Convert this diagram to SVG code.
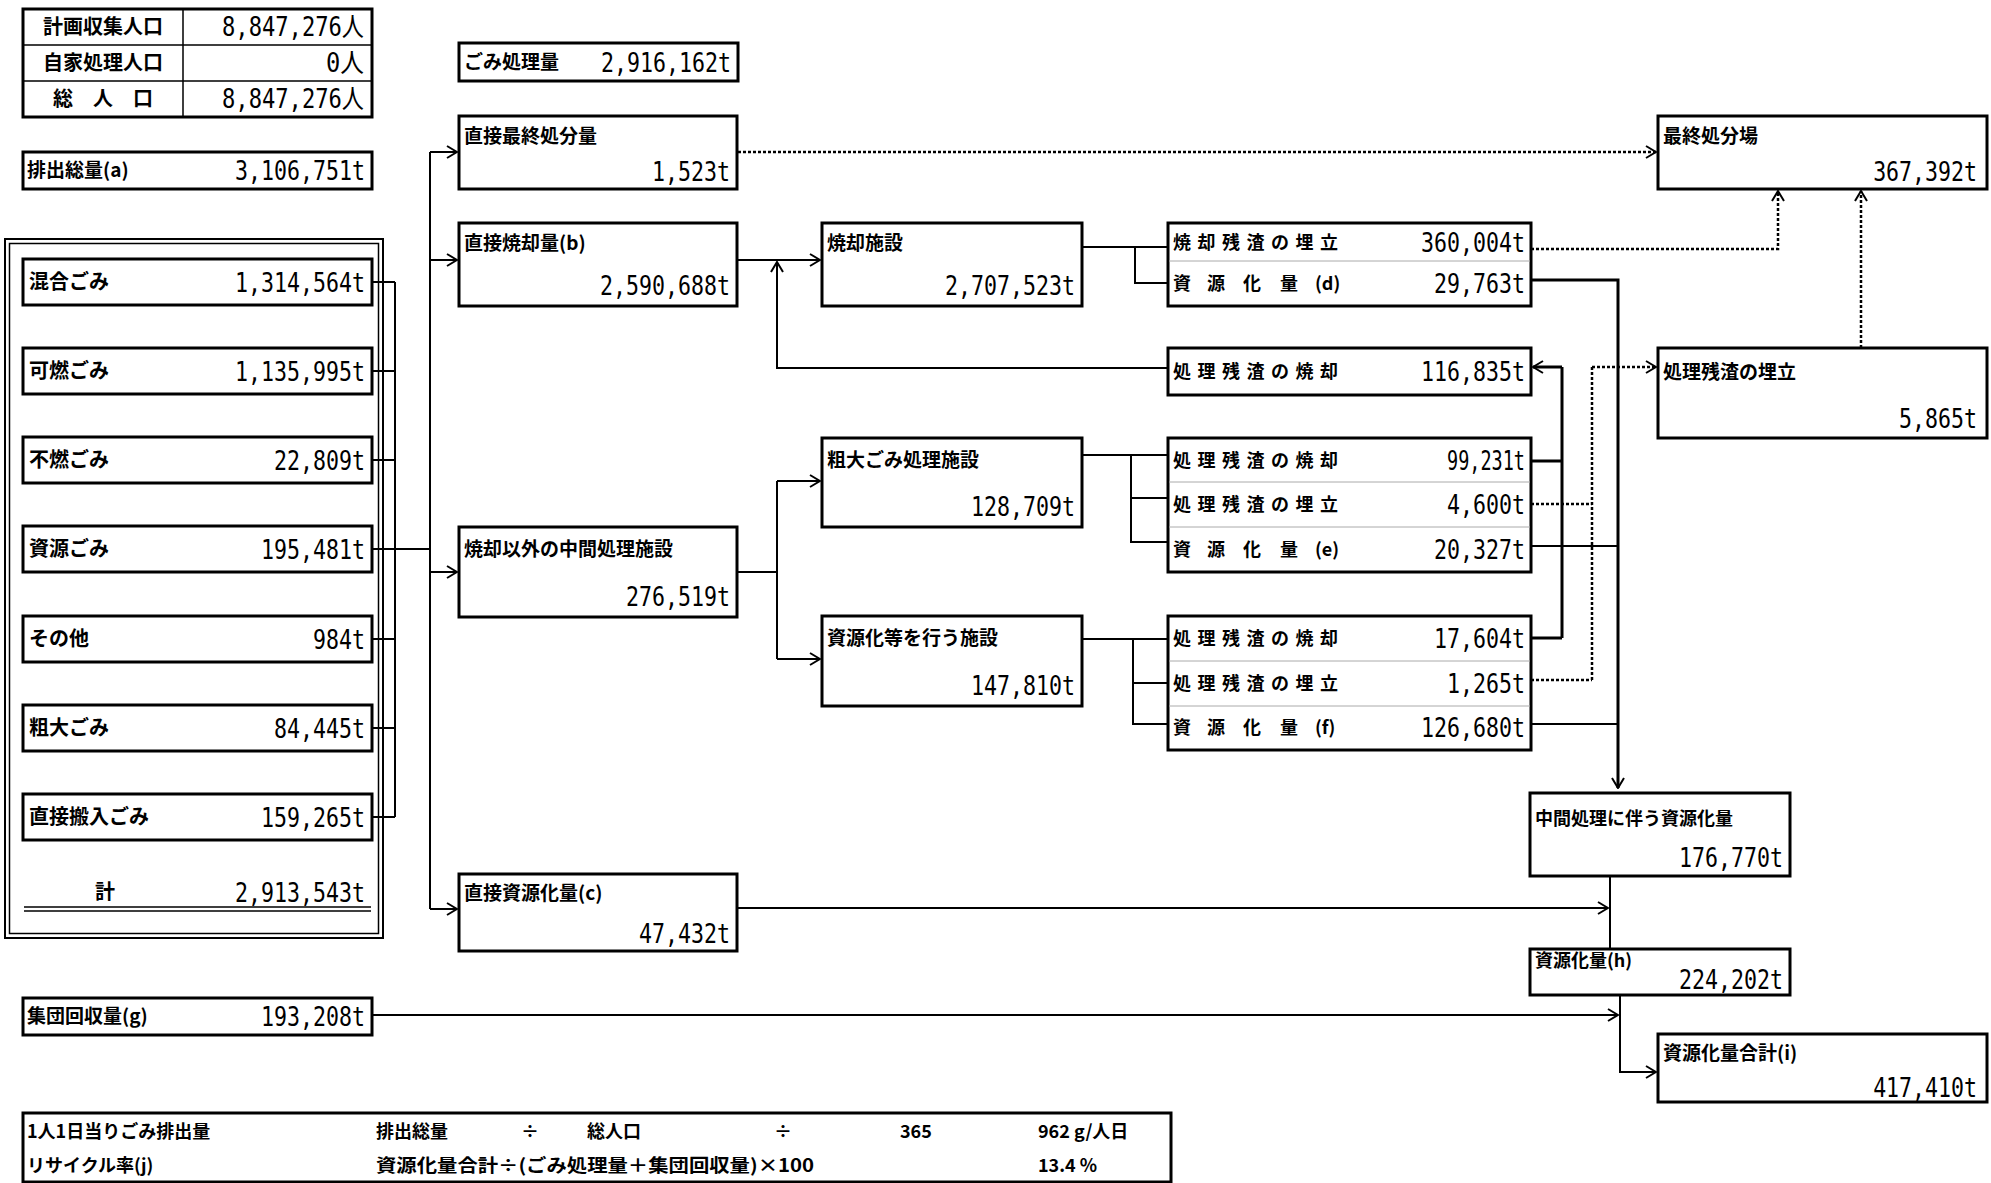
<svg xmlns="http://www.w3.org/2000/svg" width="1991" height="1183" viewBox="0 0 1991 1183">
<style>
.box{fill:#fff;stroke:#000;stroke-width:3}
.thin{fill:none;stroke:#000;stroke-width:1.5}
.dv{stroke:#aaa;stroke-width:1}
.ln{fill:none;stroke:#000;stroke-width:2}
.th{stroke-width:3}
.dt{stroke-dasharray:3 2;stroke-width:2.5}
.lb{font-family:"Noto Sans CJK JP","Noto Sans CJK SC",sans-serif;font-weight:bold;font-size:19px;fill:#000}
.sp{letter-spacing:6.5px;font-size:18px}
.nm{font-family:"DejaVu Sans Mono","Liberation Mono","Noto Sans CJK JP",monospace;font-size:26px;text-anchor:end;fill:#000}
.sm{font-family:"Noto Sans CJK JP",sans-serif;font-weight:bold;font-size:18px;fill:#000}
</style>
<defs>
<marker id="ar" markerWidth="12" markerHeight="14" refX="11" refY="7" orient="auto" markerUnits="userSpaceOnUse"><path d="M1,1 L11,7 L1,13" fill="none" stroke="#000" stroke-width="2"/></marker>
</defs>
<rect width="1991" height="1183" fill="#fff"/>

<g id="connectors">
<path class="ln" d="M372,282H395M372,371H395M372,460H395M372,549H430M372,639H395M372,728H395M372,817H395M395,282V817"/>
<path class="ln" d="M430,152V909"/>
<path class="ln" d="M430,152H457" marker-end="url(#ar)"/>
<path class="ln" d="M430,260H457" marker-end="url(#ar)"/>
<path class="ln" d="M430,572H457" marker-end="url(#ar)"/>
<path class="ln" d="M430,909H457" marker-end="url(#ar)"/>
<path class="ln" d="M737,260H820" marker-end="url(#ar)"/>
<path class="ln" d="M1168,368H777V262" marker-end="url(#ar)"/>
<path class="ln" d="M1082,247H1168M1135,247V283H1168"/>
<path class="ln" d="M737,572H777M777,481V659"/>
<path class="ln" d="M777,481H820" marker-end="url(#ar)"/>
<path class="ln" d="M777,659H820" marker-end="url(#ar)"/>
<path class="ln" d="M1082,455H1168M1131,455V542H1168M1131,498H1168"/>
<path class="ln" d="M1082,639H1168M1133,639V724H1168M1133,683H1168"/>
<path class="ln th" d="M1531,461H1562M1531,638H1562M1562,638V367"/>
<path class="ln th" d="M1562,367H1533" marker-end="url(#ar)"/>
<path class="ln th" d="M1531,280H1618V788" marker-end="url(#ar)"/>
<path class="ln" d="M1531,546H1618M1531,724H1618"/>
<path class="ln" d="M1610,876V949"/>
<path class="ln" d="M737,908H1608" marker-end="url(#ar)"/>
<path class="ln" d="M1620,995V1072H1656" marker-end="url(#ar)"/>
<path class="ln" d="M372,1015H1618" marker-end="url(#ar)"/>
<path class="ln dt" d="M738,152H1656" marker-end="url(#ar)"/>
<path class="ln dt" d="M1531,249H1778V191" marker-end="url(#ar)"/>
<path class="ln dt" d="M1531,504H1592M1531,680H1592M1592,680V367"/>
<path class="ln dt" d="M1592,367H1656" marker-end="url(#ar)"/>
<path class="ln dt" d="M1861,348V191" marker-end="url(#ar)"/>
</g>

<g id="population">
<rect class="box" x="23" y="9" width="349" height="108"/>
<path class="thin" d="M183,9V117M23,45H372M23,81H372"/>
<text class="lb" x="103" y="34" text-anchor="middle" style="font-size:20px">計画収集人口</text>
<text class="lb" x="103" y="70" text-anchor="middle" style="font-size:20px">自家処理人口</text>
<text class="lb" x="103" y="106" text-anchor="middle" style="font-size:20px">総　人　口</text>
<text class="nm" x="364" y="36" textLength="142" lengthAdjust="spacingAndGlyphs">8,847,276人</text>
<text class="nm" x="364" y="72" textLength="38" lengthAdjust="spacingAndGlyphs">0人</text>
<text class="nm" x="364" y="108" textLength="142" lengthAdjust="spacingAndGlyphs">8,847,276人</text>
</g>

<g id="gomi-shori">
<rect class="box" x="459" y="43" width="279" height="38"/>
<text class="lb" x="464" y="69">ごみ処理量</text>
<text class="nm" x="731" y="72" textLength="130" lengthAdjust="spacingAndGlyphs">2,916,162t</text>
</g>

<g id="haishutsu">
<rect class="box" x="23" y="152" width="349" height="37"/>
<text class="lb" x="27" y="177">排出総量(a)</text>
<text class="nm" x="365" y="180" textLength="130" lengthAdjust="spacingAndGlyphs">3,106,751t</text>
</g>

<g id="collection">
<rect x="5" y="239" width="378" height="699" fill="none" stroke="#000" stroke-width="2"/>
<rect x="9.5" y="243.5" width="369" height="690" fill="none" stroke="#000" stroke-width="1.5"/>
<g id="kongo"><rect class="box" x="23" y="259" width="349" height="46"/>
<text class="lb" x="29" y="289" style="font-size:20px">混合ごみ</text>
<text class="nm" x="365" y="292" textLength="130" lengthAdjust="spacingAndGlyphs">1,314,564t</text></g>
<g id="kanen"><rect class="box" x="23" y="348" width="349" height="46"/>
<text class="lb" x="29" y="378" style="font-size:20px">可燃ごみ</text>
<text class="nm" x="365" y="381" textLength="130" lengthAdjust="spacingAndGlyphs">1,135,995t</text></g>
<g id="funen"><rect class="box" x="23" y="437" width="349" height="46"/>
<text class="lb" x="29" y="467" style="font-size:20px">不燃ごみ</text>
<text class="nm" x="365" y="470" textLength="91" lengthAdjust="spacingAndGlyphs">22,809t</text></g>
<g id="shigen"><rect class="box" x="23" y="526" width="349" height="46"/>
<text class="lb" x="29" y="556" style="font-size:20px">資源ごみ</text>
<text class="nm" x="365" y="559" textLength="104" lengthAdjust="spacingAndGlyphs">195,481t</text></g>
<g id="sonota"><rect class="box" x="23" y="616" width="349" height="46"/>
<text class="lb" x="29" y="646" style="font-size:20px">その他</text>
<text class="nm" x="365" y="649" textLength="52" lengthAdjust="spacingAndGlyphs">984t</text></g>
<g id="sodai"><rect class="box" x="23" y="705" width="349" height="46"/>
<text class="lb" x="29" y="735" style="font-size:20px">粗大ごみ</text>
<text class="nm" x="365" y="738" textLength="91" lengthAdjust="spacingAndGlyphs">84,445t</text></g>
<g id="chokusetsu-hannyu"><rect class="box" x="23" y="794" width="349" height="46"/>
<text class="lb" x="29" y="824" style="font-size:20px">直接搬入ごみ</text>
<text class="nm" x="365" y="827" textLength="104" lengthAdjust="spacingAndGlyphs">159,265t</text></g>
<text class="lb" x="105" y="899" text-anchor="middle" style="font-size:20px">計</text>
<text class="nm" x="365" y="902" textLength="130" lengthAdjust="spacingAndGlyphs">2,913,543t</text>
<path d="M24,907H371M24,911H371" stroke="#000" stroke-width="1.5"/>
</g>

<g id="chokusetsu-saishu">
<rect class="box" x="459" y="116" width="278" height="73"/>
<text class="lb" x="464" y="143">直接最終処分量</text>
<text class="nm" x="730" y="181" textLength="78" lengthAdjust="spacingAndGlyphs">1,523t</text>
</g>
<g id="chokusetsu-shokyaku">
<rect class="box" x="459" y="223" width="278" height="83"/>
<text class="lb" x="464" y="250">直接焼却量(b)</text>
<text class="nm" x="730" y="295" textLength="130" lengthAdjust="spacingAndGlyphs">2,590,688t</text>
</g>
<g id="chukan">
<rect class="box" x="459" y="527" width="278" height="90"/>
<text class="lb" x="464" y="556">焼却以外の中間処理施設</text>
<text class="nm" x="730" y="606" textLength="104" lengthAdjust="spacingAndGlyphs">276,519t</text>
</g>
<g id="chokusetsu-shigenka">
<rect class="box" x="459" y="874" width="278" height="77"/>
<text class="lb" x="464" y="900">直接資源化量(c)</text>
<text class="nm" x="730" y="943" textLength="91" lengthAdjust="spacingAndGlyphs">47,432t</text>
</g>

<g id="shokyaku-shisetsu">
<rect class="box" x="822" y="223" width="260" height="83"/>
<text class="lb" x="827" y="250">焼却施設</text>
<text class="nm" x="1075" y="295" textLength="130" lengthAdjust="spacingAndGlyphs">2,707,523t</text>
</g>
<g id="sodai-shisetsu">
<rect class="box" x="822" y="438" width="260" height="89"/>
<text class="lb" x="827" y="467">粗大ごみ処理施設</text>
<text class="nm" x="1075" y="516" textLength="104" lengthAdjust="spacingAndGlyphs">128,709t</text>
</g>
<g id="shigenka-shisetsu">
<rect class="box" x="822" y="616" width="260" height="90"/>
<text class="lb" x="827" y="645">資源化等を行う施設</text>
<text class="nm" x="1075" y="695" textLength="104" lengthAdjust="spacingAndGlyphs">147,810t</text>
</g>

<g id="shokyaku-output">
<rect class="box" x="1168" y="223" width="363" height="83"/>
<path class="dv" d="M1169,261H1530"/>
<text class="lb sp" x="1173" y="249">焼却残渣の埋立</text>
<text class="nm" x="1525" y="252" textLength="104" lengthAdjust="spacingAndGlyphs">360,004t</text>
<text class="lb" x="1173 1207 1243 1280 1315" y="290" style="font-size:18px">資源化量(d)</text>
<text class="nm" x="1525" y="293" textLength="91" lengthAdjust="spacingAndGlyphs">29,763t</text>
</g>
<g id="zansa-shokyaku">
<rect class="box" x="1168" y="348" width="363" height="47"/>
<text class="lb sp" x="1173" y="378">処理残渣の焼却</text>
<text class="nm" x="1525" y="381" textLength="104" lengthAdjust="spacingAndGlyphs">116,835t</text>
</g>
<g id="sodai-output">
<rect class="box" x="1168" y="438" width="363" height="134"/>
<path class="dv" d="M1169,482H1530M1169,527H1530"/>
<text class="lb sp" x="1173" y="467">処理残渣の焼却</text>
<text class="nm" x="1525" y="470" textLength="78" lengthAdjust="spacingAndGlyphs">99,231t</text>
<text class="lb sp" x="1173" y="511">処理残渣の埋立</text>
<text class="nm" x="1525" y="514" textLength="78" lengthAdjust="spacingAndGlyphs">4,600t</text>
<text class="lb" x="1173 1207 1243 1280 1315" y="556" style="font-size:18px">資源化量(e)</text>
<text class="nm" x="1525" y="559" textLength="91" lengthAdjust="spacingAndGlyphs">20,327t</text>
</g>
<g id="shigenka-output">
<rect class="box" x="1168" y="616" width="363" height="134"/>
<path class="dv" d="M1169,661H1530M1169,706H1530"/>
<text class="lb sp" x="1173" y="645">処理残渣の焼却</text>
<text class="nm" x="1525" y="648" textLength="91" lengthAdjust="spacingAndGlyphs">17,604t</text>
<text class="lb sp" x="1173" y="690">処理残渣の埋立</text>
<text class="nm" x="1525" y="693" textLength="78" lengthAdjust="spacingAndGlyphs">1,265t</text>
<text class="lb" x="1173 1207 1243 1280 1315" y="734" style="font-size:18px">資源化量(f)</text>
<text class="nm" x="1525" y="737" textLength="104" lengthAdjust="spacingAndGlyphs">126,680t</text>
</g>

<g id="saishu-shobunjo">
<rect class="box" x="1658" y="116" width="329" height="73"/>
<text class="lb" x="1663" y="143">最終処分場</text>
<text class="nm" transform="translate(1977,181) scale(0.83,1)">367,392t</text>
</g>
<g id="zansa-umetate">
<rect class="box" x="1658" y="348" width="329" height="90"/>
<text class="lb" x="1663" y="379">処理残渣の埋立</text>
<text class="nm" transform="translate(1977,428) scale(0.83,1)">5,865t</text>
</g>
<g id="chukan-shigenka">
<rect class="box" x="1530" y="793" width="260" height="83"/>
<text class="lb" x="1535" y="825" style="font-size:18px">中間処理に伴う資源化量</text>
<text class="nm" x="1783" y="867" textLength="104" lengthAdjust="spacingAndGlyphs">176,770t</text>
</g>
<g id="shigenka-h">
<rect class="box" x="1530" y="949" width="260" height="46"/>
<text class="lb" x="1535" y="967" style="font-size:18px">資源化量(h)</text>
<text class="nm" x="1783" y="989" textLength="104" lengthAdjust="spacingAndGlyphs">224,202t</text>
</g>
<g id="shigenka-total">
<rect class="box" x="1658" y="1034" width="329" height="68"/>
<text class="lb" x="1663" y="1060">資源化量合計(i)</text>
<text class="nm" transform="translate(1977,1097) scale(0.83,1)">417,410t</text>
</g>
<g id="shudan">
<rect class="box" x="23" y="998" width="349" height="37"/>
<text class="lb" x="27" y="1023">集団回収量(g)</text>
<text class="nm" x="365" y="1026" textLength="104" lengthAdjust="spacingAndGlyphs">193,208t</text>
</g>

<g id="summary">
<rect class="box" x="23" y="1113" width="1148" height="69"/>
<text class="sm" x="27" y="1138">1人1日当りごみ排出量</text>
<text class="sm" x="376" y="1138">排出総量</text>
<text class="sm" x="521" y="1138">÷</text>
<text class="sm" x="587" y="1138">総人口</text>
<text class="sm" x="774" y="1138">÷</text>
<text class="sm" x="900" y="1138">365</text>
<text class="sm" x="1038" y="1138">962 g/人日</text>
<text class="sm" x="27" y="1172">リサイクル率(j)</text>
<text class="sm" x="376" y="1172" textLength="438" lengthAdjust="spacingAndGlyphs">資源化量合計÷(ごみ処理量＋集団回収量)×100</text>
<text class="sm" x="1038" y="1172">13.4 %</text>
</g>
</svg>
